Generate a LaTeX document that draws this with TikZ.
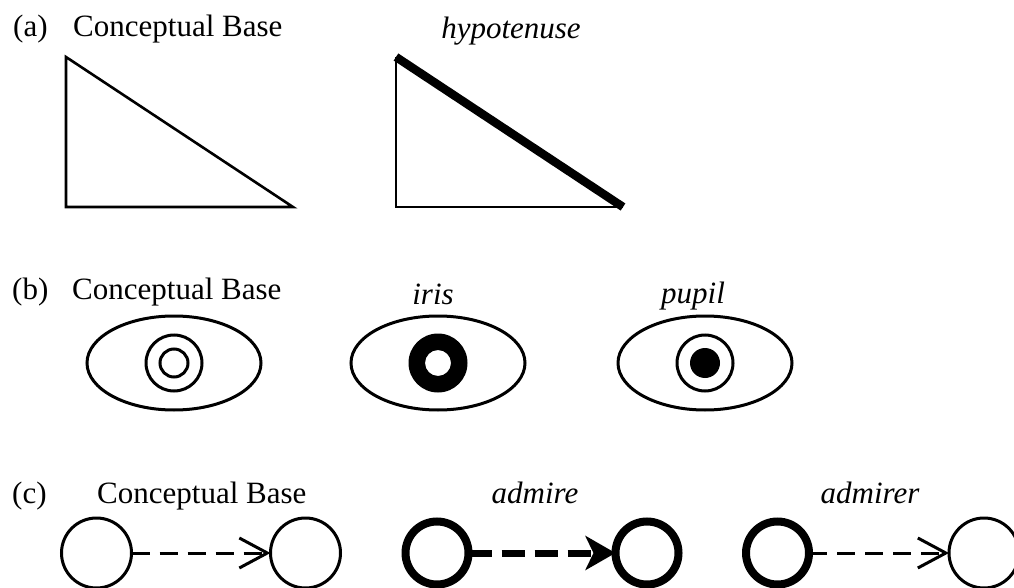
\documentclass[tikz,border=0pt]{standalone}
\usepackage{fontspec}
\setmainfont{Liberation Serif}
\usetikzlibrary{shapes.geometric,arrows.meta}
\begin{document}
\begin{tikzpicture}[x=1pt,y=-1pt,
  lbl/.style={inner sep=0pt,font=\fontsize{31}{36}\selectfont},
  ilbl/.style={lbl,font=\fontsize{31}{36}\selectfont\itshape},
  eye/.style={ellipse,draw,line width=3pt,minimum width=174pt,minimum height=94pt,inner sep=0pt,outer sep=0pt},
  thin/.style={circle,draw,line width=3pt,minimum size=70pt,inner sep=0pt,outer sep=0pt},
  thick/.style={circle,draw,line width=8pt,minimum size=63pt,inner sep=0pt,outer sep=0pt},
  thinarrow/.style={line width=3pt,dash pattern=on 18pt off 10pt,
     -{Straight Barb[length=28pt,width=30pt,line width=3pt]}},
  thickarrow/.style={line width=7pt,dash pattern=on 23pt off 10pt,
     -{Stealth[length=30pt,width=34pt,inset=8pt]}},
  tri/.style={line width=2.6pt,line join=miter}
]
\useasboundingbox (0,0) rectangle (1014,588);

% (a)
\node[lbl,anchor=base west] (la) at (13,37) {(a)};
\node[lbl,anchor=base west] (cba) at (73,37) {Conceptual Base};
\node[ilbl,anchor=base] (hyp) at (511,39) {hypotenuse};
\coordinate (t1a) at (66,57);
\coordinate (t1b) at (66,207);
\coordinate (t1c) at (293,207);
\draw[tri] (t1a) -- (t1b) -- (t1c) -- cycle;
\coordinate (t2a) at (396,57);
\coordinate (t2b) at (396,207);
\coordinate (t2c) at (623,207);
\draw[tri] (t2a) -- (t2b) -- (t2c);
\draw[line width=8.5pt] (t2a) -- (t2c);

% (b)
\node[lbl,anchor=base west] (lb) at (12,299) {(b)};
\node[lbl,anchor=base west] (cbb) at (72,299) {Conceptual Base};
\node[ilbl,anchor=base] (iris) at (433,304) {iris};
\node[ilbl,anchor=base] (pupil) at (693,303) {pupil};
\node[eye] (e1) at (174,363) {};
\node[eye] (e2) at (438,363) {};
\node[eye] (e3) at (705,363) {};
\draw[line width=3pt] (e1.center) circle[radius=28pt];
\draw[line width=3pt] (e1.center) circle[radius=14pt];
\fill[even odd rule] (e2.center) circle[radius=29.5pt] (e2.center) circle[radius=13pt];
\draw[line width=3pt] (e3.center) circle[radius=28pt];
\fill (e3.center) circle[radius=15pt];

% (c)
\node[lbl,anchor=base west] (lc) at (12,503) {(c)};
\node[lbl,anchor=base west] (cbc) at (97,503) {Conceptual Base};
\node[ilbl,anchor=base] (adm) at (535,503) {admire};
\node[ilbl,anchor=base] (admr) at (870,503) {admirer};
\node[thin] (c1) at (96.5,553) {};
\node[thin] (c2) at (305.5,553) {};
\draw[thinarrow] (c1) -- (c2);
\node[thick] (d1) at (437,553) {};
\node[thick] (d2) at (647,553) {};
\draw[thickarrow] (d1) -- (d2);
\node[thick] (f1) at (777.5,553) {};
\node[thin] (f2) at (984,553) {};
\draw[thinarrow] (f1) -- (f2);
\end{tikzpicture}
\end{document}
